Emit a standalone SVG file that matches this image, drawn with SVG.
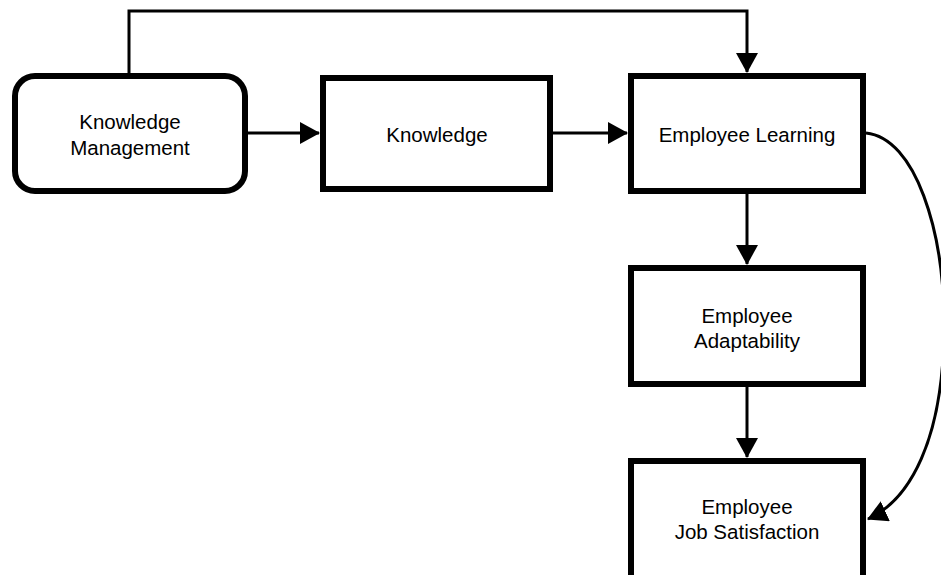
<svg xmlns="http://www.w3.org/2000/svg" width="941" height="575" viewBox="0 0 941 575">
<style>
.box{fill:#fff;stroke:#000;stroke-width:6}
.lbl{font-family:"Liberation Sans",Arial,sans-serif;font-size:20.5px;fill:#000;text-anchor:middle}
.con{fill:none;stroke:#000;stroke-width:3}
</style>
<defs>
<marker id="ah" markerUnits="userSpaceOnUse" markerWidth="20" markerHeight="22" refX="19" refY="11" orient="auto">
<path d="M0,0 L20,11 L0,22 Z" fill="#000"/>
</marker>
</defs>
<rect width="941" height="575" fill="#fff"/>
<g id="connectors">
<path class="con" d="M129,73 V11 H747 V72" marker-end="url(#ah)"/>
<path class="con" d="M248,133 H319" marker-end="url(#ah)"/>
<path class="con" d="M553,133 H627" marker-end="url(#ah)"/>
<path class="con" d="M747,194 V264" marker-end="url(#ah)"/>
<path class="con" d="M747,387 V457" marker-end="url(#ah)"/>
<path class="con" d="M866,133 C915,138 945,230 944,330 C943,440 910,500 868,519" marker-end="url(#ah)"/>
</g>
<g id="km">
<rect class="box" x="15" y="76" width="230" height="115" rx="20"/>
<text class="lbl" x="130" y="129">Knowledge</text>
<text class="lbl" x="130" y="155">Management</text>
</g>
<g id="knowledge">
<rect class="box" x="323" y="78" width="227" height="111"/>
<text class="lbl" x="437" y="142">Knowledge</text>
</g>
<g id="el">
<rect class="box" x="631" y="76" width="232" height="115"/>
<text class="lbl" x="747" y="142">Employee Learning</text>
</g>
<g id="ea">
<rect class="box" x="631" y="268" width="232" height="116"/>
<text class="lbl" x="747" y="323">Employee</text>
<text class="lbl" x="747" y="348">Adaptability</text>
</g>
<g id="ejs">
<rect class="box" x="631" y="461" width="232" height="130"/>
<text class="lbl" x="747" y="514">Employee</text>
<text class="lbl" x="747" y="539">Job Satisfaction</text>
</g>
</svg>
